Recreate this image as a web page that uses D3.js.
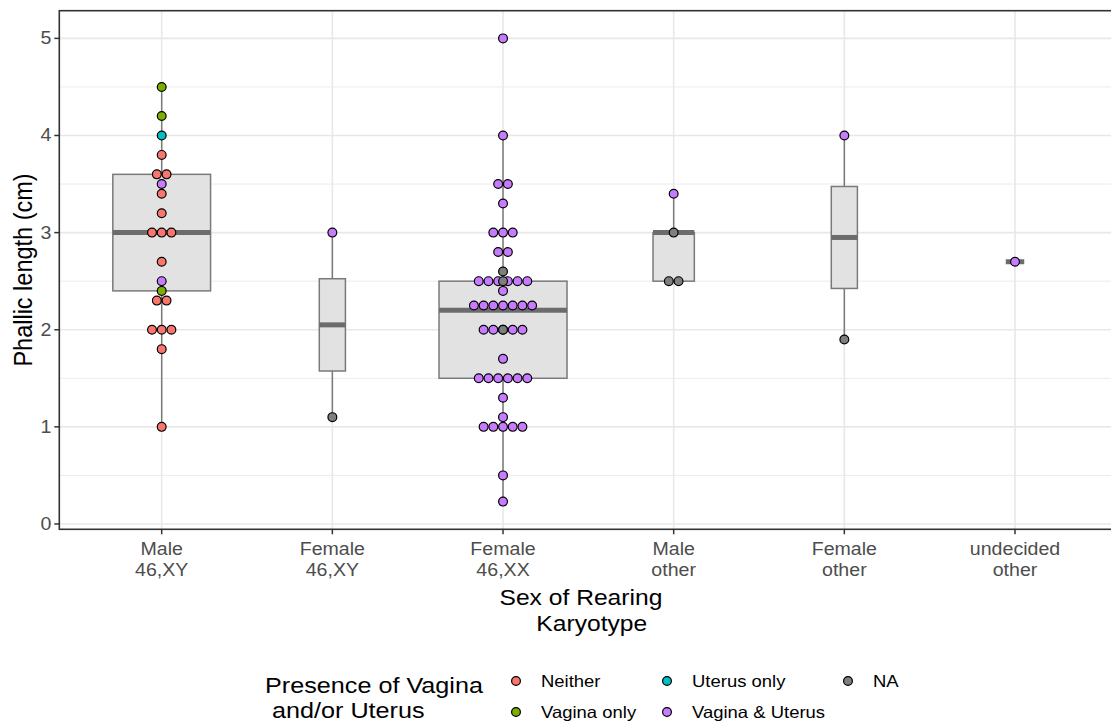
<!DOCTYPE html>
<html>
<head>
<meta charset="utf-8">
<script src="https://cdn.jsdelivr.net/npm/d3@7"></script>
<style>
  body { margin: 0; background: #fff; }
  svg text { font-family: "Liberation Sans", Arial, sans-serif; white-space: pre; }
</style>
</head>
<body>
<div id="chart"></div>
<script>
// categories on the x axis (two-line labels)
const sexOfRearing = ["Male", "Female", "Female", "Male", "Female", "undecided"]
const karyotype = ["46,XY", "46,XY", "46,XX", "other", "other", "other"]

// fill groups
const groups = ["Neither", "Vagina only", "Uterus only", "Vagina & Uterus", "NA"]
const groupColors = ["#F8766D", "#7CAE00", "#00BFC4", "#C77CFF", "#7F7F7F"]

// dots, by category and group
const male46XY = {
  "Neither": [3.8, 3.6, 3.6, 3.4, 3.2, 3.0, 3.0, 3.0, 2.7, 2.3, 2.3, 2.0, 2.0, 2.0, 1.8, 1.0],
  "Vagina only": [4.5, 4.2, 2.4],
  "Uterus only": [4.0],
  "Vagina & Uterus": [3.5, 2.5]
}
const female46XY = {
  "Vagina & Uterus": [3.0],
  "NA": [1.1]
}
const female46XX = {
  "Vagina & Uterus": [5.0, 4.0, 3.5, 3.5, 3.3, 3.0, 3.0, 3.0, 2.8, 2.8,
    2.5, 2.5, 2.5, 2.5, 2.5, 2.5, 2.4,
    2.25, 2.25, 2.25, 2.25, 2.25, 2.25, 2.25,
    2.0, 2.0, 2.0, 2.0, 2.0, 1.7,
    1.5, 1.5, 1.5, 1.5, 1.5, 1.5, 1.3, 1.1,
    1.0, 1.0, 1.0, 1.0, 1.0, 0.5, 0.23],
  "NA": [2.6, 2.5, 2.0]
}
const maleOther = {
  "Vagina & Uterus": [3.4],
  "NA": [3.0, 2.5, 2.5]
}
const femaleOther = {
  "Vagina & Uterus": [4.0],
  "NA": [1.9]
}
const undecidedOther = {
  "Vagina & Uterus": [2.7]
}
const dotsByCategory = [male46XY, female46XY, female46XX, maleOther, femaleOther, undecidedOther]

// box statistics
const boxLow = [1.0, 1.1, 0.23, 2.5, 1.9, 2.7]
const boxQ1 = [2.4, 1.575, 1.5, 2.5, 2.425, 2.7]
const boxMedian = [3.0, 2.05, 2.2, 3.0, 2.95, 2.7]
const boxQ3 = [3.6, 2.525, 2.5, 3.0, 3.475, 2.7]
const boxHigh = [4.5, 3.0, 4.0, 3.4, 4.0, 2.7]
const boxN = [28, 2, 48, 5, 2, 1]

const yTicks = [0, 1, 2, 3, 4, 5]
const yMinor = [0.5, 1.5, 2.5, 3.5, 4.5]

const width = 1111, height = 722
const panel = { left: 59.3, right: 1117.4, top: 10.7, bottom: 529.3 }
const textStretch = 1.12
const dotR = 4.4, dotStep = 9.7

const svg = d3.select("#chart").append("svg")
  .attr("width", width)
  .attr("height", height)

const step = (panel.right - panel.left) / 6.2
const x = d3.scalePoint()
  .domain(d3.range(sexOfRearing.length))
  .range([panel.left + 0.6 * step, panel.right - 0.6 * step])

const y = d3.scaleLinear()
  .domain([-0.055, 5.285])
  .range([panel.bottom, panel.top])

const color = d3.scaleOrdinal().domain(groups).range(groupColors)

// helper for horizontally stretched text
const addText = (g, str, tx, ty, size, anchor, fill, rotate) => {
  const tr = rotate
    ? `translate(${tx},${ty}) rotate(-90) scale(1,${textStretch})`
    : `translate(${tx},${ty}) scale(${textStretch},1)`
  return g.append("text")
    .attr("transform", tr)
    .attr("text-anchor", anchor)
    .attr("font-size", size)
    .attr("fill", fill)
    .text(str)
}

// grid
const grid = svg.append("g")
grid.selectAll(".minor").data(yMinor).enter().append("line")
  .attr("x1", panel.left).attr("x2", panel.right)
  .attr("y1", d => y(d)).attr("y2", d => y(d))
  .attr("stroke", "#ebebeb").attr("stroke-width", 1)
grid.selectAll(".major").data(yTicks).enter().append("line")
  .attr("x1", panel.left).attr("x2", panel.right)
  .attr("y1", d => y(d)).attr("y2", d => y(d))
  .attr("stroke", "#e8e8e8").attr("stroke-width", 1.6)
grid.selectAll(".xmajor").data(x.domain()).enter().append("line")
  .attr("x1", d => x(d)).attr("x2", d => x(d))
  .attr("y1", panel.top).attr("y2", panel.bottom)
  .attr("stroke", "#e8e8e8").attr("stroke-width", 1.6)

// boxes
const boxW = i => 0.75 * step * Math.sqrt(boxN[i] / d3.max(boxN))
const boxes = svg.append("g").selectAll("g").data(x.domain()).enter().append("g")
boxes.append("line")
  .attr("x1", i => x(i)).attr("x2", i => x(i))
  .attr("y1", i => y(boxHigh[i])).attr("y2", i => y(boxQ3[i]))
  .attr("stroke", "#7a7a7a").attr("stroke-width", 1.5)
boxes.append("line")
  .attr("x1", i => x(i)).attr("x2", i => x(i))
  .attr("y1", i => y(boxQ1[i])).attr("y2", i => y(boxLow[i]))
  .attr("stroke", "#7a7a7a").attr("stroke-width", 1.5)
boxes.append("rect")
  .attr("x", i => x(i) - boxW(i) / 2)
  .attr("width", i => boxW(i))
  .attr("y", i => y(boxQ3[i]))
  .attr("height", i => y(boxQ1[i]) - y(boxQ3[i]))
  .attr("fill", "#e2e2e2")
  .attr("stroke", "#7a7a7a").attr("stroke-width", 1.5)
boxes.append("line")
  .attr("x1", i => x(i) - boxW(i) / 2).attr("x2", i => x(i) + boxW(i) / 2)
  .attr("y1", i => y(boxMedian[i])).attr("y2", i => y(boxMedian[i]))
  .attr("stroke", "#6c6c6c").attr("stroke-width", 5)

// dots, stacked centred per value and group (ggplot dotplot style)
const dots = []
dotsByCategory.forEach((cat, i) => {
  groups.forEach(gName => {
    const vals = cat[gName] || []
    const counts = d3.rollup(vals, v => v.length, v => v)
    counts.forEach((k, v) => {
      for (let j = 0; j < k; j++) {
        dots.push({ cat: i, group: gName, value: v, offset: j - (k - 1) / 2 })
      }
    })
  })
})
svg.append("g").selectAll("circle").data(dots).enter().append("circle")
  .attr("cx", d => x(d.cat) + d.offset * dotStep)
  .attr("cy", d => y(d.value))
  .attr("r", dotR)
  .attr("fill", d => color(d.group))
  .attr("stroke", "#000").attr("stroke-width", 1.2)

// panel border
svg.append("rect")
  .attr("x", panel.left).attr("y", panel.top)
  .attr("width", panel.right - panel.left).attr("height", panel.bottom - panel.top)
  .attr("fill", "none").attr("stroke", "#333").attr("stroke-width", 1.6)

// y axis
const yAxis = svg.append("g")
yAxis.selectAll("line").data(yTicks).enter().append("line")
  .attr("x1", panel.left - 5).attr("x2", panel.left)
  .attr("y1", d => y(d)).attr("y2", d => y(d))
  .attr("stroke", "#333").attr("stroke-width", 1.5)
yTicks.forEach(t => addText(yAxis, String(t), panel.left - 8, y(t) + 6, 17.5, "end", "#4d4d4d"))

// x axis
const xAxis = svg.append("g")
xAxis.selectAll("line").data(x.domain()).enter().append("line")
  .attr("x1", d => x(d)).attr("x2", d => x(d))
  .attr("y1", panel.bottom).attr("y2", panel.bottom + 5)
  .attr("stroke", "#333").attr("stroke-width", 1.5)
x.domain().forEach(i => {
  addText(xAxis, sexOfRearing[i], x(i), 555, 17.5, "middle", "#4d4d4d")
  addText(xAxis, karyotype[i], x(i), 576, 17.5, "middle", "#4d4d4d")
})

// axis titles
const panelMidX = (panel.left + panel.right) / 2
addText(svg, "Sex of Rearing ", panelMidX - 4, 605, 22, "middle", "#000")
addText(svg, " Karyotype", panelMidX, 631, 22, "middle", "#000")
addText(svg, "Phallic length (cm)", 32, (panel.top + panel.bottom) / 2, 23.5, "middle", "#000", true)

// legend
const legend = svg.append("g")
addText(legend, "Presence of Vagina", 265, 693, 22.5, "start", "#000")
addText(legend, " and/or Uterus", 265, 718, 22.5, "start", "#000")
const legendCol = [516, 667, 848]
const legendRow = [681, 712]
groups.forEach((gName, k) => {
  const cx = legendCol[Math.floor(k / 2)]
  const cy = legendRow[k % 2]
  legend.append("circle")
    .attr("cx", cx).attr("cy", cy).attr("r", dotR)
    .attr("fill", color(gName))
    .attr("stroke", "#000").attr("stroke-width", 1.2)
  addText(legend, gName, cx + 25, cy + 6, 16.5, "start", "#000")
})
</script>
</body>
</html>
